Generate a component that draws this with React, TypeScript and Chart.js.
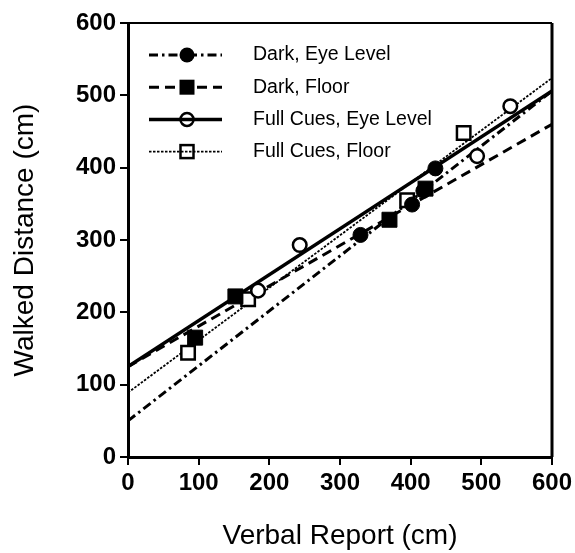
import React, { useEffect, useRef } from 'react';
import { Chart, registerables } from 'chart.js';
Chart.register(...registerables);

const FONT = '"Liberation Sans", Arial, Helvetica, sans-serif';

const seriesLabels = ['Dark, Eye Level', 'Dark, Floor', 'Full Cues, Eye Level', 'Full Cues, Floor'];

// observed points (Verbal Report x, Walked Distance y)
const darkEyeX = [329, 402, 418, 435];
const darkEyeY = [307, 349, 368, 399];
const darkFloorX = [95, 152, 370, 421];
const darkFloorY = [165, 222, 328, 371];
const fullEyeX = [184, 243, 494, 541];
const fullEyeY = [230, 293, 416, 485];
const fullFloorX = [85, 170, 395, 475];
const fullFloorY = [144, 218, 355, 448];

// regression lines (values at x = 0 and x = 600)
const fitX = [0, 600];
const darkEyeFit = [50, 506];
const darkFloorFit = [125, 460];
const fullEyeFit = [125, 506];
const fullFloorFit = [89, 524];

const axisMin = 0;
const axisMax = 600;
const axisStep = 100;

const pts = (xs: number[], ys: number[]) => xs.map((x, i) => ({ x, y: ys[i] }));

const styles = [
  { dash: [9, 4, 2.5, 4], width: 3, point: 'circle', filled: true },
  { dash: [10, 6], width: 3, point: 'rect', filled: true },
  { dash: [], width: 3.5, point: 'circle', filled: false },
  { dash: [2.5, 1.5], width: 1.8, point: 'rect', filled: false },
];

const legendPlugin = {
  id: 'customLegend',
  afterDraw(chart: any) {
    const ctx = chart.ctx as CanvasRenderingContext2D;
    ctx.save();
    const a = chart.chartArea;
    ctx.strokeStyle = '#000';
    ctx.setLineDash([]);
    ctx.lineWidth = 2;
    ctx.beginPath();
    ctx.moveTo(a.left, a.top);
    ctx.lineTo(a.right, a.top);
    ctx.stroke();
    ctx.lineWidth = 3;
    ctx.beginPath();
    ctx.moveTo(a.right, a.top);
    ctx.lineTo(a.right, a.bottom);
    ctx.stroke();

    seriesLabels.forEach((label, i) => {
      const st = styles[i];
      const y = 55 + i * 32.2;
      ctx.strokeStyle = '#000';
      ctx.lineWidth = st.width;
      ctx.setLineDash(st.dash);
      ctx.beginPath();
      ctx.moveTo(149, y);
      ctx.lineTo(222, y);
      ctx.stroke();
      ctx.setLineDash([]);
      ctx.fillStyle = '#000';
      ctx.lineWidth = 2.5;
      const mx = 187;
      if (st.point === 'circle') {
        ctx.beginPath();
        ctx.arc(mx, y, st.filled ? 7.5 : 6.5, 0, Math.PI * 2);
        if (st.filled) ctx.fill();
        else ctx.stroke();
      } else {
        if (st.filled) ctx.fillRect(mx - 7.5, y - 7.5, 15, 15);
        else ctx.strokeRect(mx - 6.5, y - 6.5, 13, 13);
      }
      ctx.fillStyle = '#000';
      ctx.font = `19.5px ${FONT}`;
      ctx.textBaseline = 'middle';
      ctx.textAlign = 'left';
      ctx.fillText(label, 253, y);
    });
    ctx.restore();
  },
};

export default function App() {
  const ref = useRef<HTMLCanvasElement>(null);
  useEffect(() => {
    if (!ref.current) return;
    const fits = [darkEyeFit, darkFloorFit, fullEyeFit, fullFloorFit];
    const scat = [
      pts(darkEyeX, darkEyeY),
      pts(darkFloorX, darkFloorY),
      pts(fullEyeX, fullEyeY),
      pts(fullFloorX, fullFloorY),
    ];
    const lineSets = fits.map((f, i) => ({
      type: 'line' as const,
      label: seriesLabels[i] + ' fit',
      data: pts(fitX, f),
      showLine: true,
      borderColor: '#000',
      borderWidth: styles[i].width,
      borderDash: styles[i].dash,
      pointRadius: 0,
      fill: false,
      order: 2,
    }));
    const pointSets = scat.map((d, i) => ({
      type: 'scatter' as const,
      label: seriesLabels[i],
      data: d,
      showLine: false,
      pointStyle: styles[i].point,
      pointRadius: styles[i].point === 'rect' ? (styles[i].filled ? 10.6 : 9.5) : (styles[i].filled ? 7.5 : 6.8),
      backgroundColor: styles[i].filled ? '#000' : '#fff',
      borderColor: '#000',
      pointBorderWidth: styles[i].filled ? 1 : 2.5,
      order: 1,
    }));
    const tickFont = { family: FONT, size: 24, weight: 'bold' as const };
    const titleFont = { family: FONT, size: 28 };
    const chart = new Chart(ref.current, {
      type: 'scatter',
      data: { datasets: [...lineSets, ...pointSets] as any },
      options: {
        animation: false,
        responsive: false,
        layout: { padding: { left: 0, top: 23, right: 23, bottom: 0 } },
        plugins: { legend: { display: false }, tooltip: { enabled: false } },
        scales: {
          x: {
            type: 'linear',
            min: axisMin,
            max: axisMax,
            ticks: { stepSize: axisStep, color: '#000', font: tickFont, padding: 4, maxRotation: 0 },
            grid: { display: true, drawOnChartArea: false, drawTicks: true, tickLength: 8, color: '#000', lineWidth: 2 },
            border: { display: true, color: '#000', width: 3 },
            title: { display: true, text: 'Verbal Report (cm)', color: '#000', font: titleFont, padding: { top: 0, bottom: 0 } },
            afterFit: (s: any) => { s.height = 96; s.paddingLeft = 0; s.paddingRight = 0; },
          },
          y: {
            type: 'linear',
            min: axisMin,
            max: axisMax,
            ticks: { stepSize: axisStep, color: '#000', font: tickFont, padding: 4 },
            grid: { display: true, drawOnChartArea: false, drawTicks: true, tickLength: 8, color: '#000', lineWidth: 2 },
            border: { display: true, color: '#000', width: 3 },
            title: { display: true, text: 'Walked Distance (cm)', color: '#000', font: titleFont, padding: { top: 8, bottom: 0 } },
            afterFit: (s: any) => { s.width = 128; s.paddingTop = 0; s.paddingBottom = 0; },
          },
        },
      },
      plugins: [legendPlugin],
    });
    return () => chart.destroy();
  }, []);
  return (
    <div style={{ position: 'absolute', left: 0, top: 0, width: 575, height: 553, background: '#fff' }}>
      <canvas ref={ref} width={575} height={553} />
    </div>
  );
}
